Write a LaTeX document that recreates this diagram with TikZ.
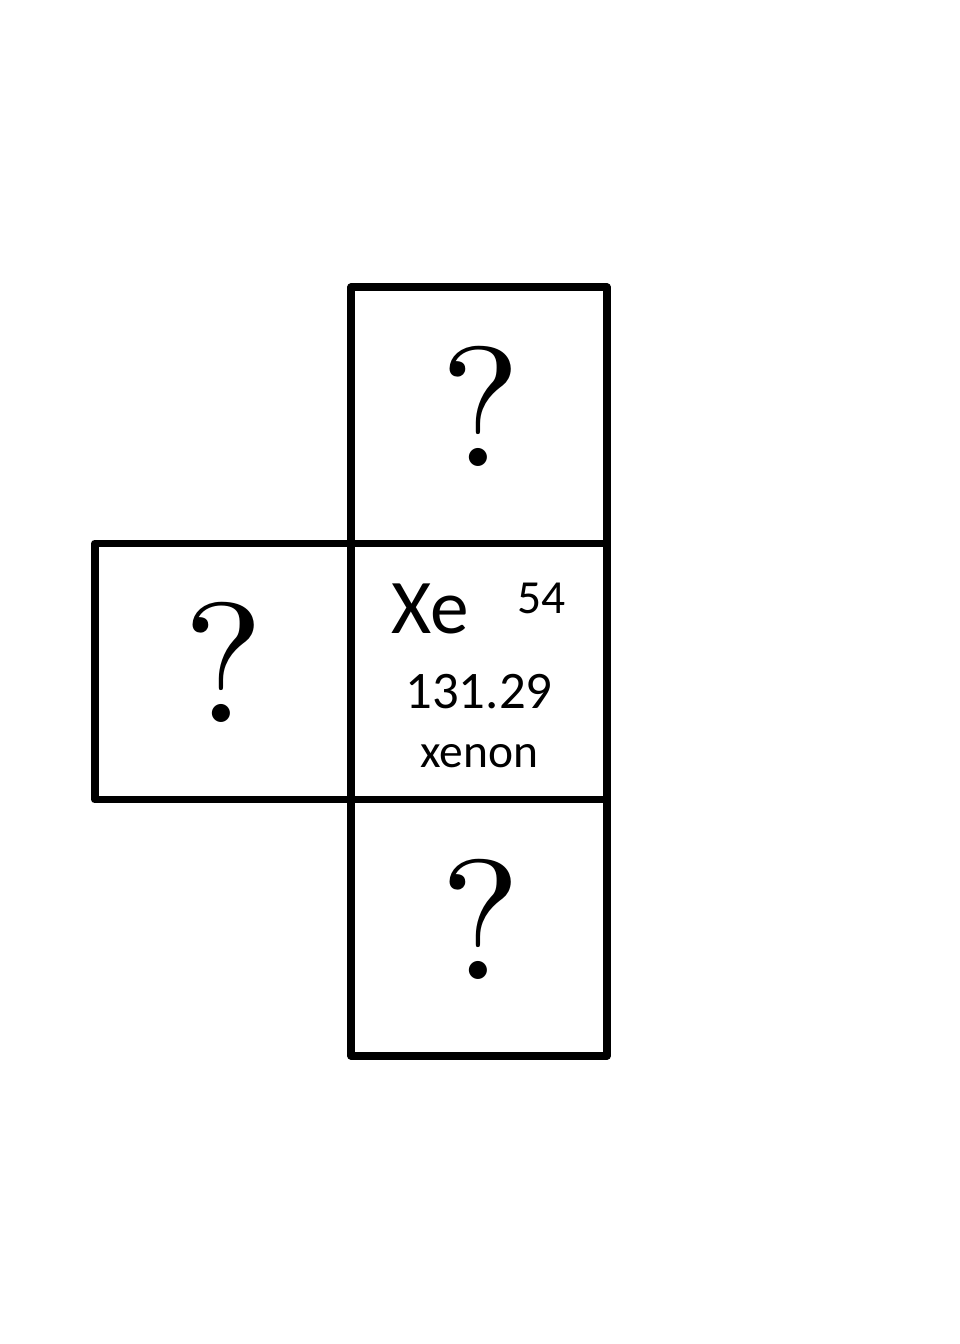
\documentclass[tikz,border=0pt]{standalone}
\usepackage{fontspec}
\usepackage{graphicx}
\newfontfamily\calfont{Carlito}
\usetikzlibrary{positioning}

\begin{document}
\begin{tikzpicture}[
    x=0.01cm, y=-0.01cm,
    cell/.style={draw, line width=2.2pt, line join=round, minimum size=2.56cm, inner sep=0pt, outer sep=0pt},
    qmark/.style={inner sep=0pt},
    elem/.style={inner sep=0pt}
]
\useasboundingbox (0,0) rectangle (960,1344);
\node[cell] (xe) at (479,671.5) {};
\node[cell, above=0pt of xe] (up) {};
\node[cell, left=0pt of xe] (left) {};
\node[cell, below=0pt of xe] (down) {};

\node[qmark] (qup) at (481,406) {\scalebox{4.85}{?}};
\node[qmark] (qleft) at (224,662) {\scalebox{4.85}{?}};
\node[qmark] (qdown) at (481,919) {\scalebox{4.85}{?}};

\node[elem, font=\calfont\fontsize{22}{22}\selectfont, anchor=base west] (sym) at (391,633) {Xe};
\node[elem, font=\calfont\fontsize{13.5}{13.5}\selectfont, anchor=base west] (num) at (517,613) {54};
\node[elem, font=\calfont\fontsize{15}{15}\selectfont, anchor=base] (mass) at (479,708) {131.29};
\node[elem, font=\calfont\fontsize{13.5}{13.5}\selectfont, anchor=base] (name) at (479.5,767) {xenon};
\end{tikzpicture}
\end{document}
